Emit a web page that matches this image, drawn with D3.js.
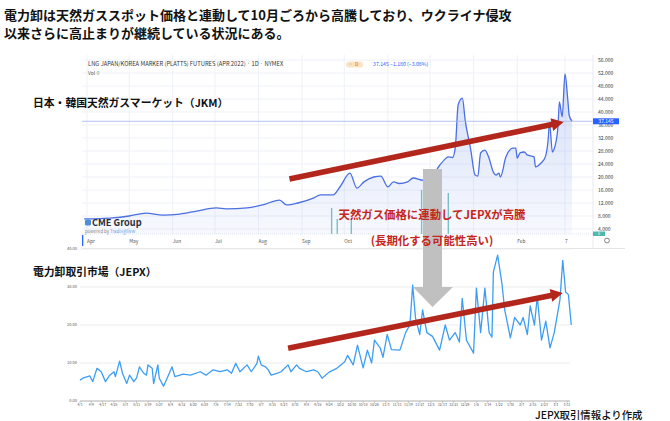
<!DOCTYPE html>
<html><head><meta charset="utf-8">
<script src="https://cdn.jsdelivr.net/npm/d3@7"></script>
<style>
body{margin:0;background:#fff;}
svg{display:block;}
text{font-family:"Noto Sans CJK JP","Noto Sans",sans-serif;}
</style></head><body>
<svg id="c" width="670" height="421"></svg>
<script>
// ---------------- DATA ----------------
const titleLines = [
  "電力卸は天然ガススポット価格と連動して10月ごろから高騰しており、ウクライナ侵攻",
  "以来さらに高止まりが継続している状況にある。"
];
const jkmLabel = "日本・韓国天然ガスマーケット（JKM）";
const jepxLabel = "電力卸取引市場（JEPX）";
const sourceNote = "JEPX取引情報より作成";
const noteLine1 = "天然ガス価格に連動してJEPXが高騰";
const noteLine2 = "(長期化する可能性高い)";
const jkmHeader = "LNG JAPAN/KOREA MARKER (PLATTS) FUTURES (APR 2022) · 1D · NYMEX";

const jkmDates = ["2021-03-30","2021-04-10","2021-04-19","2021-05-01","2021-05-13","2021-05-25","2021-06-06","2021-06-18","2021-07-02","2021-07-09","2021-07-24","2021-08-04","2021-08-16","2021-08-21","2021-08-29","2021-09-09","2021-09-14","2021-09-23","2021-09-28","2021-10-05","2021-10-10","2021-10-15","2021-10-22","2021-10-27","2021-11-01","2021-11-05","2021-11-09","2021-11-15","2021-11-19","2021-11-26","2021-12-01","2021-12-08","2021-12-11","2021-12-14","2021-12-17","2021-12-19","2021-12-21","2021-12-24","2021-12-26","2021-12-30","2022-01-02","2022-01-04","2022-01-06","2022-01-09","2022-01-12","2022-01-15","2022-01-17","2022-01-19","2022-01-20","2022-01-24","2022-01-29","2022-01-31","2022-02-01","2022-02-03","2022-02-06","2022-02-08","2022-02-13","2022-02-14","2022-02-18","2022-02-21","2022-02-23","2022-02-24","2022-02-26","2022-02-27","2022-03-02","2022-03-03","2022-03-05","2022-03-07","2022-03-09","2022-03-10","2022-03-12"];
const jkmValues = [7.1,7.2,7.4,8.0,8.9,8.3,8.6,9.5,10.5,10.2,10.5,11.4,12.9,11.4,12.0,13.5,14.5,14.5,17.0,21.2,16.6,18.5,20.0,20.3,17.0,18.5,18.0,18.5,19.7,19.0,19.5,23.7,25.2,26.2,26.0,29.2,42.2,44.3,37.5,28.3,20.6,20.3,27.4,28.3,25.8,21.5,20.6,21.2,20.0,26.2,28.9,28.9,25.8,27.4,27.7,26.8,26.2,23.1,24.3,26.2,31.4,36.9,27.7,28.3,35.4,43.1,38.5,51.7,43.7,39.0,37.145];
const jkmLast = 37.145, jkmChange = "−1.180 (−3.08%)";
const jkmTicks = [4,8,12,16,20,24,28,32,36,40,44,48,52,56];
const jkmGridDates = ["2021-04-01","2021-05-01","2021-06-01","2021-07-01","2021-08-01","2021-09-01","2021-10-01","2021-11-01","2021-12-01","2022-01-01","2022-02-01","2022-03-07"];
const jkmAxisLabels = ["Apr","May","Jun","Jul","Aug","Sep","Oct","Feb","7"];
const jkmAxisDates = ["2021-04-01","2021-05-01","2021-06-01","2021-07-01","2021-08-01","2021-09-01","2021-10-01","2022-02-01","2022-03-07"];
const volDates = ["2021-09-22","2021-09-26","2021-10-06","2021-11-25","2021-12-14"];
const volValues = [26,15,16,44,41];

const jepxDates = ["2021-04-01","2021-04-03","2021-04-08","2021-04-10","2021-04-13","2021-04-16","2021-04-19","2021-04-22","2021-04-25","2021-04-26","2021-04-29","2021-05-01","2021-05-04","2021-05-06","2021-05-09","2021-05-11","2021-05-13","2021-05-16","2021-05-18","2021-05-19","2021-05-22","2021-05-23","2021-05-26","2021-05-27","2021-05-30","2021-06-02","2021-06-05","2021-06-07","2021-06-13","2021-06-18","2021-06-25","2021-06-29","2021-07-04","2021-07-09","2021-07-14","2021-07-17","2021-07-20","2021-07-23","2021-07-28","2021-07-31","2021-08-04","2021-08-05","2021-08-07","2021-08-10","2021-08-12","2021-08-14","2021-08-18","2021-08-21","2021-08-26","2021-08-28","2021-09-01","2021-09-03","2021-09-08","2021-09-13","2021-09-16","2021-09-19","2021-09-24","2021-09-29","2021-10-05","2021-10-07","2021-10-11","2021-10-14","2021-10-18","2021-10-21","2021-10-24","2021-10-26","2021-10-30","2021-11-01","2021-11-04","2021-11-07","2021-11-13","2021-11-17","2021-11-20","2021-11-22","2021-11-24","2021-11-27","2021-11-29","2021-12-02","2021-12-06","2021-12-11","2021-12-15","2021-12-18","2021-12-22","2021-12-25","2021-12-27","2021-12-30","2022-01-04","2022-01-06","2022-01-09","2022-01-12","2022-01-15","2022-01-17","2022-01-18","2022-01-21","2022-01-24","2022-01-26","2022-01-30","2022-02-02","2022-02-06","2022-02-08","2022-02-11","2022-02-13","2022-02-16","2022-02-18","2022-02-21","2022-02-24","2022-02-27","2022-03-02","2022-03-06","2022-03-08","2022-03-10","2022-03-12","2022-03-14"];
const jepxValues = [5.5,6.0,6.6,5.1,8.6,7.7,5.1,6.8,7.7,6.4,10.5,7.3,4.6,6.8,5.1,6.1,9.0,7.3,6.8,9.5,8.6,4.6,9.5,6.0,3.9,6.4,9.0,6.4,7.1,6.8,7.7,6.8,8.2,7.7,8.2,7.3,9.9,7.7,9.5,7.7,9.9,11.8,9.5,9.0,8.2,6.8,7.3,7.7,9.5,7.7,9.5,8.6,7.7,8.2,7.7,6.0,7.6,8.5,10.3,12.0,9.5,14.7,8.7,13.4,10.0,16.0,14.0,11.5,17.5,13.5,13.4,18.0,20.0,30.5,21.8,17.5,24.0,18.0,17.0,13.4,20.0,16.0,18.0,15.5,27.0,16.0,12.6,29.7,18.0,29.7,18.0,16.8,34.0,38.4,31.0,24.0,16.6,22.0,20.0,22.0,17.5,25.0,20.0,27.4,16.0,21.0,14.0,18.0,26.6,37.0,28.7,28.0,20.0];
const jepxTicks = [0,10,20,30,40];
const jepxAxisLabels = ["4/1","4/9","4/17","4/25","5/3","5/11","5/19","5/27","6/4","6/12","6/20","6/28","7/6","7/14","7/22","7/30","8/7","8/15","8/23","8/31","9/8","9/16","9/24","10/2","10/10","10/18","10/26","11/3","11/11","11/19","11/27","12/5","12/13","12/21","12/29","1/6","1/14","1/22","1/30","2/7","2/15","2/23","3/3","3/11"];

// annotation arrows given in data coordinates
const jkmTrend = [["2021-08-23",19.4],["2022-03-06",36.9]];
const jepxTrend = [["2021-08-26",13.9],["2022-03-08",28.4]];

// ---------------- DRAW ----------------
const parse = d3.timeParse("%Y-%m-%d");
const svg = d3.select("#c");
const RED = "#b3261c";

// Title
svg.selectAll(".title").data(titleLines).join("text")
  .attr("x",4).attr("y",(d,i)=>20+i*18)
  .attr("font-size",13).attr("font-weight",700).attr("fill","#111").text(d=>d);

// ---------- JKM (TradingView style) ----------
const P = {l:82, r:593, t:55, b:234};
const jx = d3.scaleTime().domain([parse("2021-04-01"),parse("2022-03-07")]).range([87,565]);
const jy = d3.scaleLinear().domain([0,56]).range([242,60]);
const vy = d3.scaleLinear().domain([0,50]).range([P.b,P.b-50]);
const jkm = jkmDates.map((d,i)=>({date:parse(d),v:jkmValues[i]}));

const topG = svg.append("g");
topG.selectAll(".hg").data(jkmTicks).join("line")
  .attr("x1",P.l).attr("x2",P.r).attr("y1",d=>jy(d)).attr("y2",d=>jy(d))
  .attr("stroke","#eef1f8").attr("stroke-width",1);
topG.selectAll(".vg").data(jkmGridDates).join("line")
  .attr("x1",d=>jx(parse(d))).attr("x2",d=>jx(parse(d))).attr("y1",P.t).attr("y2",P.b)
  .attr("stroke","#eef1f8").attr("stroke-width",1);

topG.selectAll(".vol").data(volDates).join("rect")
  .attr("x",d=>jx(parse(d))-0.7).attr("width",1.4)
  .attr("y",(d,i)=>vy(volValues[i])).attr("height",(d,i)=>P.b-vy(volValues[i]))
  .attr("fill","#7cc6c0");

const defs = svg.append("defs");
const grad = defs.append("linearGradient").attr("id","ag").attr("x1",0).attr("x2",0).attr("y1",0).attr("y2",1);
grad.append("stop").attr("offset","0%").attr("stop-color","#3f6ae0").attr("stop-opacity",0.22);
grad.append("stop").attr("offset","100%").attr("stop-color","#3f6ae0").attr("stop-opacity",0.04);
topG.append("path").datum(jkm)
  .attr("d",d3.area().x(d=>jx(d.date)).y0(P.b).y1(d=>jy(d.v)).curve(d3.curveMonotoneX))
  .attr("fill","url(#ag)");
topG.append("path").datum(jkm)
  .attr("d",d3.line().x(d=>jx(d.date)).y(d=>jy(d.v)).curve(d3.curveMonotoneX))
  .attr("fill","none").attr("stroke","#4a6fe3").attr("stroke-width",1.3);

topG.append("line").attr("x1",P.l).attr("x2",P.r).attr("y1",jy(jkmLast)).attr("y2",jy(jkmLast))
  .attr("stroke","#9fb4f0").attr("stroke-width",0.8);

topG.append("line").attr("x1",P.r).attr("x2",P.r).attr("y1",P.t).attr("y2",P.b+14).attr("stroke","#e6e9f0");
topG.selectAll(".pt").data(jkmTicks).join("text")
  .attr("x",P.r+5).attr("y",d=>jy(d)+1.8)
  .attr("font-size",5).attr("fill","#333").attr("font-family","Liberation Sans, Arial").text(d=>d3.format(".3f")(d));
topG.append("rect").attr("x",P.r).attr("y",jy(jkmLast)-3).attr("width",26).attr("height",6).attr("fill","#2962ff");
topG.append("text").attr("x",P.r+13).attr("y",jy(jkmLast)+1.9).attr("text-anchor","middle")
  .attr("font-size",5).attr("fill","#fff").attr("font-family","Liberation Sans, Arial").text(d3.format(".3f")(jkmLast));
topG.append("rect").attr("x",P.r).attr("y",P.b-2.5).attr("width",12).attr("height",4.5).attr("fill","#26a69a").attr("opacity",0.8);
topG.append("text").attr("x",P.r+6).attr("y",P.b+1.2).attr("text-anchor","middle")
  .attr("font-size",3.5).attr("fill","#fff").text("0");

topG.append("line").attr("x1",P.l).attr("x2",P.r).attr("y1",P.b).attr("y2",P.b)
  .attr("stroke","#cfd6e4").attr("stroke-width",0.6).attr("stroke-dasharray","1,1");
topG.append("line").attr("x1",P.l).attr("x2",625).attr("y1",P.b+14.5).attr("y2",P.b+14.5)
  .attr("stroke","#e4e4e4").attr("stroke-width",1);
topG.append("rect").attr("x",P.l).attr("y",P.b+1).attr("width",1.3).attr("height",11).attr("fill","#2962ff");
topG.selectAll(".tl").data(jkmAxisLabels).join("text")
  .attr("x",(d,i)=>jx(parse(jkmAxisDates[i]))).attr("y",P.b+9)
  .attr("text-anchor","start").attr("font-size",4.8).attr("fill","#555")
  .attr("font-family","Liberation Sans, Arial").text(d=>d);
topG.append("circle").attr("cx",607).attr("cy",P.b+6.5).attr("r",2.4)
  .attr("fill","none").attr("stroke","#666").attr("stroke-width",0.8);

topG.append("text").attr("x",88).attr("y",66).attr("font-size",5.8).attr("fill","#333")
  .attr("font-family","Open Sans, Liberation Sans").text(jkmHeader);
topG.append("rect").attr("x",346).attr("y",61.5).attr("width",17).attr("height",6).attr("rx",3).attr("fill","#fbe4c4");
topG.append("text").attr("x",349).attr("y",66.3).attr("font-size",5).attr("fill","#aaa").text("=");
topG.append("text").attr("x",355).attr("y",66.3).attr("font-size",5).attr("fill","#f39c12").attr("font-weight",700).text("D");
topG.append("text").attr("x",373).attr("y",66).attr("font-size",5.2).attr("fill","#2962ff")
  .attr("font-family","Open Sans, Liberation Sans").text(d3.format(".3f")(jkmLast)+"  "+jkmChange);
const vt = topG.append("text").attr("x",88).attr("y",74.5).attr("font-size",5).attr("font-family","Open Sans, Liberation Sans");
vt.append("tspan").attr("fill","#555").text("Vol ");
vt.append("tspan").attr("fill","#26a69a").text("0");

topG.append("rect").attr("x",85).attr("y",219.5).attr("width",6).attr("height",6).attr("rx",1.5).attr("fill","#4a8fd6");
topG.append("text").attr("x",92).attr("y",226).attr("font-size",9.2).attr("font-weight",700).attr("fill","#2b2f3a")
  .attr("font-family","Liberation Sans, Arial").text("CME Group");
const pb = topG.append("text").attr("x",85).attr("y",233.3).attr("font-size",4.4).attr("font-family","Liberation Sans, Arial");
pb.append("tspan").attr("fill","#888").text("powered by ");
pb.append("tspan").attr("fill","#5ea3e8").text("TradingView");

svg.append("text").attr("x",33).attr("y",106.5).attr("font-size",10.8).attr("font-weight",700).attr("fill","#111").text(jkmLabel);

// ---------- JEPX ----------
const ex = d3.scaleTime().domain([parse("2021-04-01"),parse("2022-03-11")]).range([80,567]);
const ey = d3.scaleLinear().domain([0,40]).range([401,249]);
const jepx = jepxDates.map((d,i)=>({date:parse(d),v:jepxValues[i]}));
const bot = svg.append("g");
bot.selectAll(".eg").data(jepxTicks.filter(d=>d>0)).join("line")
  .attr("x1",80).attr("x2",570).attr("y1",d=>ey(d)).attr("y2",d=>ey(d))
  .attr("stroke","#ececec").attr("stroke-width",1);
bot.append("line").attr("x1",80).attr("x2",570).attr("y1",ey(0)).attr("y2",ey(0)).attr("stroke","#9a9a9a").attr("stroke-width",0.8);
bot.selectAll(".ey").data(jepxTicks).join("text")
  .attr("x",77).attr("y",d=>ey(d)+1.3).attr("text-anchor","end")
  .attr("font-size",4).attr("fill","#555").attr("font-family","Liberation Sans, Arial")
  .text(d=>d3.format(".2f")(d));
const lblDate = s=>{const [m,dd]=s.split("/").map(Number);return new Date(m>=4?2021:2022,m-1,dd);};
bot.selectAll(".etk").data(jepxAxisLabels).join("line")
  .attr("x1",d=>ex(lblDate(d))).attr("x2",d=>ex(lblDate(d))).attr("y1",ey(0)).attr("y2",ey(0)+2)
  .attr("stroke","#9a9a9a").attr("stroke-width",0.5);
bot.selectAll(".ex").data(jepxAxisLabels).join("text")
  .attr("x",d=>ex(lblDate(d))).attr("y",ey(0)+5.2).attr("text-anchor","middle")
  .attr("font-size",3.4).attr("fill","#555").attr("font-family","Liberation Sans Narrow, Liberation Sans, Arial").text(d=>d);
bot.append("path").datum(jepx)
  .attr("d",d3.line().x(d=>ex(d.date)).y(d=>ey(d.v)))
  .attr("fill","none").attr("stroke","#3d9df5").attr("stroke-width",1.3).attr("stroke-linejoin","round");

svg.append("text").attr("x",33).attr("y",275.5).attr("font-size",10.8).attr("font-weight",700).attr("fill","#111").text(jepxLabel);
svg.append("text").attr("x",535).attr("y",418.8).attr("font-size",10.4).attr("font-weight",500).attr("fill","#111").text(sourceNote);

// ---------- annotations ----------
function redArrow(x1,y1,x2,y2){
  const ang=Math.atan2(y2-y1,x2-x1), L=12, Wd=6.5, w=2.8;
  const bx=x2-L*Math.cos(ang), by=y2-L*Math.sin(ang);
  const nx=-Math.sin(ang), ny=Math.cos(ang);
  const pts=[[x1+nx*w,y1+ny*w],[bx+nx*w,by+ny*w],[bx+nx*Wd,by+ny*Wd],[x2,y2],[bx-nx*Wd,by-ny*Wd],[bx-nx*w,by-ny*w],[x1-nx*w,y1-ny*w]];
  svg.append("path").attr("d","M"+pts.map(p=>p.join(",")).join("L")+"Z").attr("fill",RED);
}
redArrow(jx(parse(jkmTrend[0][0])),jy(jkmTrend[0][1]),jx(parse(jkmTrend[1][0])),jy(jkmTrend[1][1]));
redArrow(ex(parse(jepxTrend[0][0])),ey(jepxTrend[0][1]),ex(parse(jepxTrend[1][0])),ey(jepxTrend[1][1]));

svg.append("path").attr("d","M423,169 L442,169 L442,287 L453,287 L432.5,307 L413,287 L423,287 Z").attr("fill","#c0c0c0");

svg.append("text").attr("x",432).attr("y",219).attr("text-anchor","middle").attr("font-size",11.4)
  .attr("font-weight",700).attr("fill","#c4261b").text(noteLine1);
svg.append("text").attr("x",432).attr("y",245).attr("text-anchor","middle").attr("font-size",11.4)
  .attr("font-weight",700).attr("fill","#c4261b").text(noteLine2);
</script>
</body></html>
